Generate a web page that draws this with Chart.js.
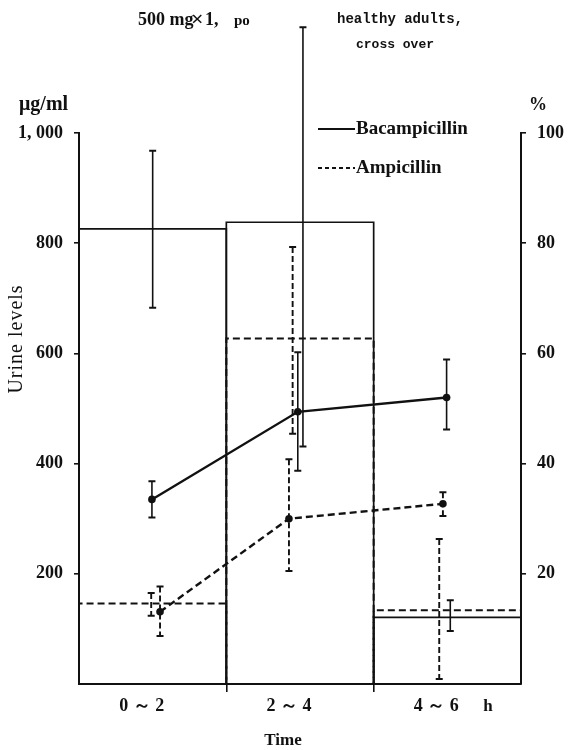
<!DOCTYPE html>
<html>
<head>
<meta charset="utf-8">
<script src="https://cdn.jsdelivr.net/npm/chart.js@4/dist/chart.umd.min.js"></script>
<style>
  html, body { margin: 0; padding: 0; background: #fff; }
  #wrap { width: 569px; height: 750px; }
</style>
</head>
<body>
<div id="wrap"><canvas id="chart" width="569" height="750"></canvas></div>
<script>
// ---------------- DATA ----------------

const categories = ["0 ～ 2", "2 ～ 4", "4 ～ 6"];

// urine levels (ug/ml, left axis); x = sampling time in h
const bacLevelTime = [0.99, 2.97, 4.99];
const bacLevel = [335, 494, 520];
const bacLevelLow = [302, 387, 462];
const bacLevelHigh = [368, 602, 589];

const ampLevelTime = [1.10, 2.85, 4.94];
const ampLevel = [131, 300, 327];
const ampLevelLow = [87, 205, 305];
const ampLevelHigh = [177, 408, 348];

// urinary recovery per interval (%, right axis)
const bacRecovery = [82.6, 83.8, 12.1];
const bacRecoveryLow = [68.3, 43.1, 9.6];
const bacRecoveryHigh = [96.8, 119.2, 15.2];
const bacRecoveryErrTime = [1.00, 3.04, 5.04];

const ampRecovery = [14.6, 62.7, 13.4];
const ampRecoveryLow = [12.4, 45.4, 0.9];
const ampRecoveryHigh = [16.5, 79.3, 26.3];
const ampRecoveryErrTime = [0.98, 2.90, 4.89];

const leftTicks = [200, 400, 600, 800, 1000];
const rightTicks = [20, 40, 60, 80, 100];

// ---------------- STYLE ----------------

const ink = "#111";
const serif = "'Liberation Serif', 'Times New Roman', serif";
const tickFont = { family: serif, size: 18, weight: "bold" };
const dash = [7, 4];

Chart.defaults.font.family = serif;
Chart.defaults.color = ink;

const points = (xs, ys) => xs.map((x, i) => ({ x: x, y: ys[i] }));

function drawErrorBar(ctx, x, top, bottom, dashed) {
    ctx.save();
    ctx.strokeStyle = ink;
    ctx.lineWidth = dashed ? 1.9 : 1.6;
    ctx.setLineDash(dashed ? [6, 3] : []);
    ctx.beginPath();
    ctx.moveTo(x, top);
    ctx.lineTo(x, bottom);
    ctx.stroke();
    ctx.setLineDash([]);
    ctx.lineWidth = 2;
    ctx.beginPath();
    ctx.moveTo(x - 3.5, top);
    ctx.lineTo(x + 3.5, top);
    ctx.moveTo(x - 3.5, bottom);
    ctx.lineTo(x + 3.5, bottom);
    ctx.stroke();
    ctx.restore();
}

function text(ctx, str, x, y, font, align) {
    ctx.font = font;
    ctx.textAlign = align || "center";
    ctx.textBaseline = "middle";
    ctx.fillText(str, x, y);
}

// ---------------- PLUGIN: outlines, error bars, labels ----------------

const figure = {
    id: "figure",
    beforeDatasetsDraw(chart) {
        const ctx = chart.ctx;
        chart.data.datasets.forEach((ds, i) => {
            if (ds.type !== "bar") return;
            ctx.save();
            ctx.strokeStyle = ink;
            ctx.lineWidth = ds.outlineDash.length ? 2 : 1.7;
            ctx.setLineDash(ds.outlineDash);
            chart.getDatasetMeta(i).data.forEach(bar => {
                const p = bar.getProps(["x", "y", "base", "width"], true);
                ctx.beginPath();
                ctx.moveTo(p.x - p.width / 2, p.base);
                ctx.lineTo(p.x - p.width / 2, p.y);
                ctx.lineTo(p.x + p.width / 2, p.y);
                ctx.lineTo(p.x + p.width / 2, p.base);
                ctx.stroke();
            });
            ctx.restore();
        });
    },
    afterDatasetsDraw(chart) {
        const ctx = chart.ctx;
        const xs = chart.scales.x2;
        chart.data.datasets.forEach(ds => {
            const ys = chart.scales[ds.yAxisID];
            ds.errTime.forEach((t, k) => {
                drawErrorBar(ctx, xs.getPixelForValue(t),
                    ys.getPixelForValue(ds.errHigh[k]),
                    ys.getPixelForValue(ds.errLow[k]),
                    ds.dashedErr);
            });
        });
    },
    afterDraw(chart) {
        const ctx = chart.ctx;
        ctx.save();
        ctx.fillStyle = ink;

        text(ctx, "500 mg", 138, 20, "bold 18px " + serif, "left");
        text(ctx, "×", 191, 20, "bold 22px " + serif, "left");
        text(ctx, "1,", 205, 20, "bold 18px " + serif, "left");
        text(ctx, "po", 234, 21, "bold 15px " + serif, "left");
        text(ctx, "healthy adults,", 400, 19, "bold 14px 'Liberation Mono', monospace");
        text(ctx, "cross over", 395, 45, "bold 13px 'Liberation Mono', monospace");

        text(ctx, "μg/ml", 19, 105, "bold 20px " + serif, "left");
        text(ctx, "%", 529, 105, "bold 18px " + serif, "left");

        text(ctx, "Time", 283, 741, "bold 17px " + serif);
        text(ctx, "h", 488, 707, "bold 17px " + serif);

        ctx.save();
        ctx.translate(17, 339);
        ctx.rotate(-Math.PI / 2);
        ctx.letterSpacing = "1px";
        text(ctx, "Urine levels", 0, 0, "20px " + serif);
        ctx.restore();

        // legend
        const rows = chart.data.datasets.filter(ds => ds.type === "line");
        rows.forEach((ds, i) => {
            const y = 129 + i * 39;
            ctx.save();
            ctx.strokeStyle = ink;
            ctx.lineWidth = 2;
            ctx.setLineDash(ds.borderDash ? [4, 3] : []);
            ctx.beginPath();
            ctx.moveTo(318, y);
            ctx.lineTo(355, y);
            ctx.stroke();
            ctx.restore();
            text(ctx, ds.label, 356, y, "bold 19px " + serif, "left");
        });
        ctx.restore();
    }
};

// ---------------- CHART ----------------

const ctx = document.getElementById("chart").getContext("2d");

new Chart(ctx, {
    type: "bar",
    data: {
        labels: categories,
        datasets: [
            {
                type: "bar",
                label: "Bacampicillin",
                data: bacRecovery,
                xAxisID: "x",
                yAxisID: "yR",
                backgroundColor: "rgba(0,0,0,0)",
                borderWidth: 0,
                barPercentage: 1,
                categoryPercentage: 1,
                grouped: false,
                outlineDash: [],
                errTime: bacRecoveryErrTime,
                errLow: bacRecoveryLow,
                errHigh: bacRecoveryHigh,
                dashedErr: false
            },
            {
                type: "bar",
                label: "Ampicillin",
                data: ampRecovery,
                xAxisID: "x",
                yAxisID: "yR",
                backgroundColor: "rgba(0,0,0,0)",
                borderWidth: 0,
                barPercentage: 1,
                categoryPercentage: 1,
                grouped: false,
                outlineDash: dash,
                errTime: ampRecoveryErrTime,
                errLow: ampRecoveryLow,
                errHigh: ampRecoveryHigh,
                dashedErr: true
            },
            {
                type: "line",
                label: "Bacampicillin",
                data: points(bacLevelTime, bacLevel),
                xAxisID: "x2",
                yAxisID: "y",
                borderColor: ink,
                borderWidth: 2.4,
                pointRadius: 3.8,
                pointBackgroundColor: ink,
                pointBorderWidth: 0,
                tension: 0,
                fill: false,
                errTime: bacLevelTime,
                errLow: bacLevelLow,
                errHigh: bacLevelHigh,
                dashedErr: false
            },
            {
                type: "line",
                label: "Ampicillin",
                data: points(ampLevelTime, ampLevel),
                xAxisID: "x2",
                yAxisID: "y",
                borderColor: ink,
                borderWidth: 2.4,
                borderDash: dash,
                pointRadius: 3.8,
                pointBackgroundColor: ink,
                pointBorderWidth: 0,
                tension: 0,
                fill: false,
                errTime: ampLevelTime,
                errLow: ampLevelLow,
                errHigh: ampLevelHigh,
                dashedErr: true
            }
        ]
    },
    options: {
        responsive: false,
        animation: false,
        layout: { padding: { top: 133, left: 0, right: 0, bottom: 0 } },
        plugins: {
            legend: { display: false },
            tooltip: { enabled: false }
        },
        scales: {
            x: {
                type: "category",
                offset: true,
                grid: {
                    offset: true,
                    drawOnChartArea: false,
                    tickLength: 8,
                    lineWidth: 1.6,
                    color: c => (c.index === 1 || c.index === 2) ? ink : "rgba(0,0,0,0)"
                },
                border: { color: ink, width: 2 },
                ticks: { font: tickFont, color: ink, padding: 4, labelOffset: -11, maxRotation: 0 },
                afterFit: s => { s.height = 66; }
            },
            x2: {
                type: "linear",
                display: false,
                offset: false,
                grid: { offset: false },
                min: 0,
                max: 6
            },
            y: {
                position: "left",
                min: 0,
                max: 1000,
                afterBuildTicks: s => { s.ticks = leftTicks.map(v => ({ value: v })); },
                ticks: {
                    font: tickFont,
                    color: ink,
                    padding: 11,
                    callback: v => v >= 1000 ? v.toLocaleString("en-US").replace(",", ", ") : v
                },
                grid: { drawOnChartArea: false, tickLength: 5, color: ink, lineWidth: 1.6 },
                border: { color: ink, width: 2 },
                afterFit: s => { s.width = 79; }
            },
            yR: {
                position: "right",
                min: 0,
                max: 100,
                afterBuildTicks: s => { s.ticks = rightTicks.map(v => ({ value: v })); },
                ticks: { font: tickFont, color: ink, padding: 11 },
                grid: { drawOnChartArea: false, tickLength: 5, color: ink, lineWidth: 1.6 },
                border: { color: ink, width: 2 },
                afterFit: s => { s.width = 48; }
            }
        }
    },
    plugins: [figure]
});
</script>
</body>
</html>
